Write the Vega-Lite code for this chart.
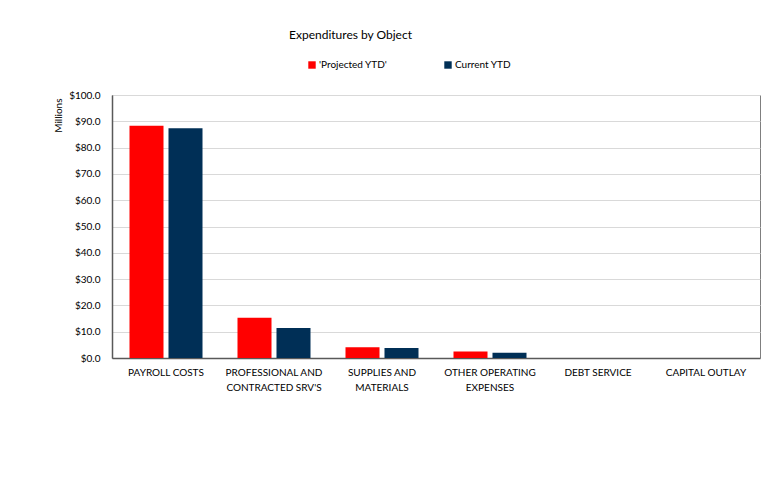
{
  "$schema": "https://vega.github.io/schema/vega-lite/v6.json",
  "autosize": "none",
  "width": 648,
  "height": 263,
  "padding": {"left": 112, "top": 95, "right": 16, "bottom": 125},
  "background": "white",
  "title": {
    "text": "Expenditures by Object",
    "anchor": "start",
    "frame": "group",
    "dx": 177,
    "offset": 18,
    "font": "Lato",
    "fontSize": 12,
    "fontWeight": "normal",
    "color": "#000000"
  },
  "data": {
    "values": [
      {"category": "PAYROLL COSTS", "series": "'Projected YTD'", "value": 88.3},
      {"category": "PAYROLL COSTS", "series": "Current YTD", "value": 87.4},
      {"category": "PROFESSIONAL AND CONTRACTED SRV'S", "series": "'Projected YTD'", "value": 15.3},
      {"category": "PROFESSIONAL AND CONTRACTED SRV'S", "series": "Current YTD", "value": 11.4},
      {"category": "SUPPLIES AND MATERIALS", "series": "'Projected YTD'", "value": 4.1},
      {"category": "SUPPLIES AND MATERIALS", "series": "Current YTD", "value": 3.8},
      {"category": "OTHER OPERATING EXPENSES", "series": "'Projected YTD'", "value": 2.5},
      {"category": "OTHER OPERATING EXPENSES", "series": "Current YTD", "value": 2.0},
      {"category": "DEBT SERVICE", "series": "'Projected YTD'", "value": 0},
      {"category": "DEBT SERVICE", "series": "Current YTD", "value": 0},
      {"category": "CAPITAL OUTLAY", "series": "'Projected YTD'", "value": 0},
      {"category": "CAPITAL OUTLAY", "series": "Current YTD", "value": 0}
    ]
  },
  "mark": {"type": "bar"},
  "encoding": {
    "x": {
      "field": "category",
      "type": "nominal",
      "sort": null,
      "scale": {"paddingInner": 0.324, "paddingOuter": 0.162},
      "axis": {
        "title": null,
        "labelAngle": 0,
        "labelFont": "Lato",
        "labelFontSize": 10,
        "labelColor": "#000000",
        "labelPadding": 9,
        "labelLimit": 200,
        "labelLineHeight": 15,
        "ticks": false,
        "domainColor": "#595959",
        "domainWidth": 1.5,
        "labelExpr": "indexof(datum.value,'PROFESSIONAL')==0 ? ['PROFESSIONAL AND', \"CONTRACTED SRV'S\"] : indexof(datum.value,'SUPPLIES')==0 ? ['SUPPLIES AND','MATERIALS'] : indexof(datum.value,'OTHER')==0 ? ['OTHER OPERATING','EXPENSES'] : datum.value"
      }
    },
    "xOffset": {
      "field": "series",
      "type": "nominal",
      "sort": ["'Projected YTD'", "Current YTD"],
      "scale": {"paddingInner": 0.128, "paddingOuter": 0}
    },
    "y": {
      "field": "value",
      "type": "quantitative",
      "scale": {"domain": [0, 100], "nice": false},
      "axis": {
        "title": "Millions",
        "titleFont": "Lato",
        "titleFontSize": 10,
        "titleFontWeight": "normal",
        "titleColor": "#000000",
        "titleAngle": -90,
        "titleX": -54,
        "titleY": 3,
        "titleAlign": "right",
        "titleBaseline": "middle",
        "values": [0, 10, 20, 30, 40, 50, 60, 70, 80, 90, 100],
        "format": "$.1f",
        "labelFont": "Lato",
        "labelFontSize": 10,
        "labelColor": "#000000",
        "labelPadding": 12,
        "ticks": false,
        "domainColor": "#595959",
        "domainWidth": 1.5,
        "gridColor": "#D9D9D9",
        "gridWidth": 1
      }
    },
    "color": {
      "field": "series",
      "type": "nominal",
      "sort": ["'Projected YTD'", "Current YTD"],
      "scale": {"domain": ["'Projected YTD'", "Current YTD"], "range": ["#FF0000", "#002F56"]},
      "legend": {
        "title": null,
        "orient": "none",
        "direction": "horizontal",
        "legendX": 195,
        "legendY": -35,
        "symbolType": "square",
        "symbolSize": 55,
        "symbolStrokeWidth": 0,
        "labelFont": "Lato",
        "labelFontSize": 10,
        "labelColor": "#000000",
        "labelOffset": 2,
        "columnPadding": 55
      }
    }
  },
  "config": {
    "view": {"stroke": "#7F7F7F", "strokeWidth": 1}
  }
}
